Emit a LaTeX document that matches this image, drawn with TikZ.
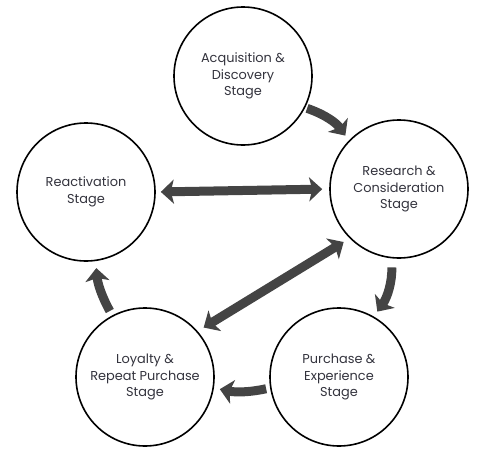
\documentclass[tikz,border=0pt]{standalone}
\usepackage{fontspec}
\setmainfont{Poppins}
\usetikzlibrary{arrows.meta}
\definecolor{arr}{HTML}{444444}
\definecolor{txt}{HTML}{33333D}
\tikzset{
  stage/.style={circle, draw=black, line width=1.6pt, minimum size=138pt, inner sep=0pt,
    align=center, text=txt, font=\fontsize{12.9}{16.5}\selectfont},
  flow/.style={draw=arr, line width=9pt, -{Stealth[length=13pt,width=24pt,inset=3pt]}},
  flow2/.style={draw=arr, line width=9pt, {Stealth[length=13pt,width=24pt,inset=3pt]}-{Stealth[length=13pt,width=24pt,inset=3pt]}}
}
\begin{document}
\begin{tikzpicture}[x=1pt,y=1pt]
\useasboundingbox (0,0) rectangle (483,-461);
\node[stage] (acq) at (243,-76) {Acquisition \&\\Discovery\\Stage};
\node[stage] (res) at (399,-189) {Research \&\\Consideration\\Stage};
\node[stage] (rea) at (86,-192) {Reactivation\\Stage};
\node[stage] (loy) at (145,-377) {Loyalty \&\\Repeat Purchase\\Stage};
\node[stage] (pur) at (339,-377) {Purchase \&\\Experience\\Stage};
% curved arrows
\draw[flow, shorten <=2pt, shorten >=6pt] (acq.-27) to[bend left=18] (res.136);
\draw[flow, shorten <=9pt, shorten >=6pt] (res.-96) to[bend left=18] (pur.60);
\draw[flow, shorten <=4pt, shorten >=6pt] (pur.189) to[bend left=12] (loy.-9);
\draw[flow, shorten <=5pt, shorten >=7pt] (loy.118) to[bend left=12] (rea.-82);
% straight double arrows
\draw[flow2, shorten <=5pt, shorten >=7pt] (rea.0) -- (res.180);
\draw[flow2, shorten <=7pt, shorten >=7pt] (res.225) -- (loy.41);
\end{tikzpicture}
\end{document}
